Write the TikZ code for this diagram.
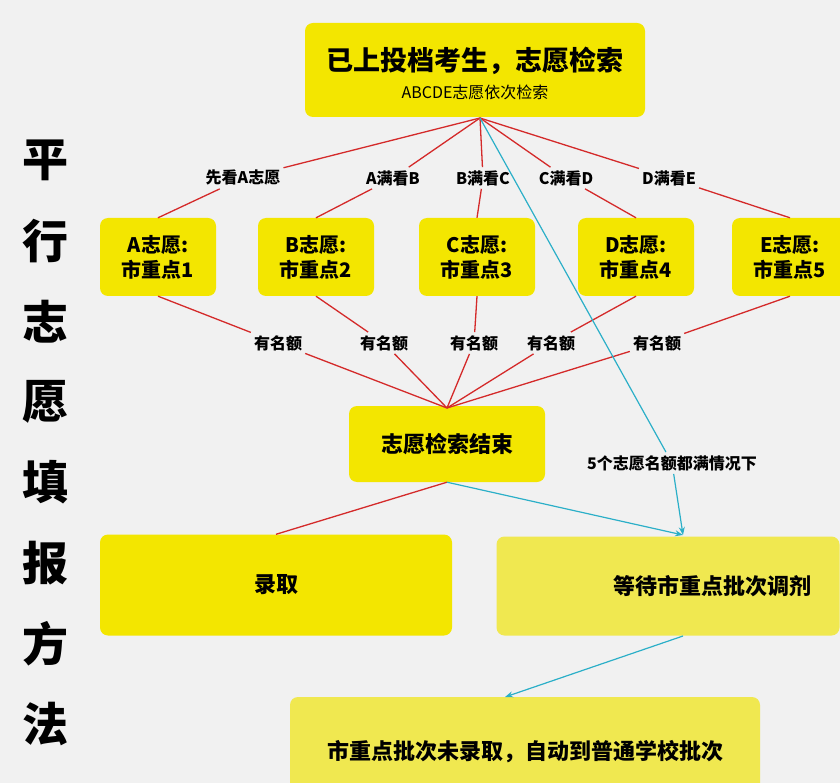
\documentclass[tikz,border=0pt]{standalone}
\usepackage{fontspec}
\newfontfamily\cjk{Noto Sans CJK SC}
\usetikzlibrary{arrows.meta}
\definecolor{bg}{HTML}{F1F1F1}
\definecolor{ybox}{HTML}{F3E600}
\definecolor{ylight}{HTML}{F0E850}
\definecolor{rline}{HTML}{D42A2A}
\definecolor{cline}{HTML}{2BAFC8}

\begin{document}
\begin{tikzpicture}[x=1pt,y=-1pt,
    box/.style = {fill=ybox, rounded corners=8pt, inner sep=0pt,
                align=center, font=\cjk\bfseries},
    lab/.style = {font=\cjk\bfseries\fontsize{16}{18}\selectfont, inner sep=3pt},
    red/.style = {rline, line width=1.3pt},
    blue/.style = {cline, line width=1.2pt, -{Stealth[length=8pt,width=6pt]}}
                    ]
        \fill[bg] (0,0) rectangle (840,783);
        \useasboundingbox (0,0) rectangle (840,783);
        % title on the left
        \foreach \c [count=\i] in {平,行,志,愿,填,报,方,法}
            \node[font=\cjk\bfseries\fontsize{46}{46}\selectfont] (t\i) at (45,80+80.5*\i) {\c};
        % top box
        \node[box, minimum width=340, minimum height=94] (top) at (475,70) {};
        \node[font=\cjk\bfseries\fontsize{27}{30}\selectfont] (toptxt) at (475,61) {已上投档考生，志愿检索};
        \node[font=\cjk\fontsize{16}{18}\selectfont] (topsub) at (475,92) {ABCDE志愿依次检索};
        \coordinate (apex) at (480,118);
        % five wishes
        \foreach \x/\v/\n in {158/A/1, 316/B/2, 477/C/3, 636/D/4, 790/E/5}
            \node[box, minimum width=116, minimum height=78,
                  font=\cjk\bfseries\fontsize{20}{25}\selectfont] (w\v) at (\x,257) {{\v}志愿:\\市重点{\n}};
        \foreach \x/\t/\n in {243/先看A志愿/1, 393/A满看B/2, 483/B满看C/3, 566/C满看D/4, 669/D满看E/5}
            \node[lab] (k\n) at (\x,178) {\t};
        \foreach \x [count=\n] in {278,384,474,551,657}
            \node[lab] (m\n) at (\x,343) {有名额};
        % end of search
        \node[box, minimum width=196, minimum height=76,
              font=\cjk\bfseries\fontsize{22}{24}\selectfont] (fin) at (447,444) {志愿检索结束};
        \coordinate (finin) at (447,408);
        \node[box, minimum width=352, minimum height=101,
              font=\cjk\bfseries\fontsize{22}{24}\selectfont] (lu) at (276,585) {录取};
        \node[box, fill=ylight, minimum width=343, minimum height=99] (wait) at (668,586) {};
        \node[font=\cjk\bfseries\fontsize{22}{24}\selectfont] (waittxt) at (712,586) {等待市重点批次调剂};
        \node[box, fill=ylight, minimum width=470, minimum height=110,
              font=\cjk\bfseries\fontsize{22}{24}\selectfont] (pt) at (525,752) {市重点批次未录取，自动到普通学校批次};
        \node[lab] (full) at (672,463) {5个志愿名额都满情况下};
        % red connectors
        \foreach \v/\n in {A/1, B/2, C/3, D/4, E/5}
            \draw[red] (apex) -- (k\n) -- (w\v.north);
        \draw[red] (wA.south) -- (m1);
        \draw[red] (wB.south) -- (m2);
        \draw[red] (wC.south) -- (m3);
        \draw[red] (wD.south) -- (m4);
        \draw[red] (wE.south) -- (m5);
        \foreach \n in {1,...,5}
            \draw[red] (m\n) -- (finin);
        \draw[red] (fin.south) -- (lu.north);
        % blue arrows
        \coordinate (waitin) at (683,535);
        \coordinate (waitout) at (683,636);
        \coordinate (ptin) at (505,697);
        \draw[blue] (apex) -- (full) -- (waitin);
        \draw[blue] (fin.south) -- (waitin);
        \draw[blue] (waitout) -- (ptin);
    \end{tikzpicture}
\end{document}
